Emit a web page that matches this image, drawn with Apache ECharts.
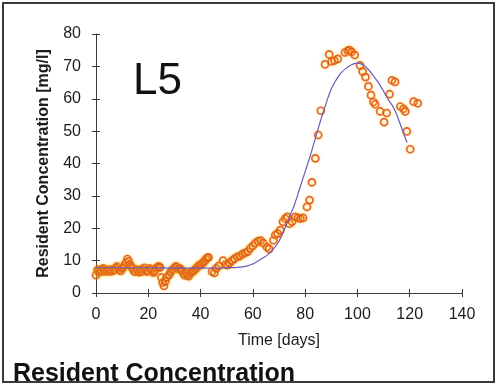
<!DOCTYPE html>
<html>
<head>
<meta charset="utf-8">
<script src="https://cdn.jsdelivr.net/npm/echarts@6/dist/echarts.min.js"></script>
<style>
  html, body { margin: 0; padding: 0; background: #fff; }
  #chart { width: 498px; height: 384px; }
</style>
</head>
<body>
<div id="chart"></div>
<script>
// Measured resident concentration at lysimeter L5
const obsDays = [0, 0.5, 1, 1.2, 1.5, 2, 2.5, 2.8, 3, 3.5, 4, 4.5, 5, 5.5, 6, 6.5, 7, 7.5, 8, 8.5, 9, 9.5, 10, 10.5, 11, 11.5, 12, 12.5, 13, 13.5, 14, 14.5, 15, 15.5, 16, 16.5, 17, 17.5, 18, 18.5, 19, 19.5, 20, 20.5, 21, 21.5, 22, 22.5, 23, 23.5, 24, 24.5, 25, 25.5, 26, 26.5, 27, 28, 28.5, 29, 29.5, 30, 30.5, 31, 31.5, 32, 32.5, 33, 33.5, 34, 34.5, 35, 35.5, 36, 36.5, 37, 37.5, 38, 38.5, 39, 39.5, 40, 40.5, 41, 41.5, 42, 42.5, 43, 44.4, 45.3, 46, 47, 48.6, 49.5, 50.3, 51, 52, 53, 54, 55, 56, 57, 58, 59, 60, 61, 62, 63, 64, 65.4, 66.2, 67.9, 68.6, 69.5, 70.5, 71.5, 72.4, 73.2, 74, 75, 76.2, 77.3, 78.2, 79.2, 80.7, 81.7, 82.6, 83.9, 85, 86, 87.6, 89.2, 90.1, 91.2, 92.5, 95.2, 96.3, 96.9, 97.8, 99, 101, 102, 103.1, 104.2, 105.2, 106.1, 106.8, 108.7, 110.2, 111.2, 112.3, 113.2, 114.4, 116.4, 117.6, 118.3, 118.9, 120.2, 121.5, 123.1];
const obsConc = [5.5, 7, 7.2, 6.4, 6.5, 7, 6.8, 7.6, 7.3, 6.6, 7, 6.8, 7.2, 6.6, 6.9, 7.4, 7, 7.6, 8.2, 7.8, 7.2, 6.8, 7.6, 8, 8.6, 9.4, 10.5, 9.8, 8.8, 8.2, 7.6, 6.8, 6.5, 7.2, 6.9, 6.4, 7.2, 6.6, 7.3, 7.8, 7, 6.6, 6.8, 7.6, 7.2, 6.8, 6.3, 6.8, 7.6, 8, 8.2, 7.9, 4.8, 3.2, 2.2, 3.6, 4.8, 5.6, 6.4, 7, 7.4, 7.8, 8.2, 8, 7.4, 7.6, 7.2, 6.8, 6, 5.4, 6.2, 5.6, 5.2, 6, 6.4, 6.6, 7, 7.4, 7.8, 8.2, 8.6, 8.8, 9, 9.4, 9.8, 10.4, 10.8, 11, 6.6, 6.2, 7.6, 8.4, 10, 8.8, 8.6, 9.2, 10, 10.6, 11.2, 11.4, 12, 12.4, 12.8, 13.8, 14.6, 15.4, 16, 16.2, 15.4, 14.2, 13.6, 16.3, 17.9, 18.4, 19.4, 22, 23, 23.5, 21.4, 22, 23.5, 23.2, 23, 23.2, 26.6, 28.7, 34.2, 41.6, 48.8, 56.3, 70.6, 73.7, 71.5, 71.8, 72.3, 74.3, 74.8, 75, 74.5, 73.5, 70.3, 68.4, 66.7, 63.8, 61.1, 59, 58.3, 56.1, 52.8, 55.6, 61.4, 65.7, 65.2, 57.6, 56.9, 56.1, 49.9, 44.4, 59.1, 58.6];

// Fitted model curve
const fitDays = [0, 10, 20, 30, 40, 50, 55, 58, 60, 62, 64, 66, 68, 70, 72, 74, 76, 78, 80, 82, 84, 86, 88, 90, 92, 94, 96, 98, 100, 102, 104, 106, 108, 110, 112, 114, 116, 118, 119];
const fitConc = [7.8, 7.8, 7.8, 7.7, 7.7, 7.8, 8, 8.4, 9, 9.9, 10.9, 12, 13.8, 16, 19.5, 23.5, 27.5, 32.5, 37.5, 42.5, 48, 53.5, 58.5, 63, 66, 68.2, 69.6, 70.6, 71, 70.5, 69.2, 67.2, 65, 62.3, 59.5, 57, 53, 48.5, 46.5];

const xTicks = { min: 0, max: 140, interval: 20 };
const yTicks = { min: 0, max: 80, interval: 10 };

const obsData = obsDays.map((d, i) => [d, obsConc[i]]);
const fitData = fitDays.map((d, i) => [d, fitConc[i]]);

const font = 'Liberation Sans, Arial, sans-serif';
const axisColor = '#3a3a3a';
const textColor = '#1c1c1c';

const chart = echarts.init(document.getElementById('chart'), null, { renderer: 'canvas' });

const baseX = {
  type: 'value', min: xTicks.min, max: xTicks.max, interval: xTicks.interval,
  splitLine: { show: false }
};
const baseY = {
  type: 'value', min: yTicks.min, max: yTicks.max, interval: yTicks.interval,
  splitLine: { show: false }
};

chart.setOption({
  backgroundColor: '#ffffff',
  animation: false,
  grid: { left: 96, right: 36, top: 34, bottom: 91, containLabel: false },
  xAxis: [
    Object.assign({}, baseX, {
      position: 'bottom',
      name: 'Time [days]', nameLocation: 'middle', nameGap: 40,
      nameTextStyle: { color: textColor, fontSize: 16, fontFamily: font },
      axisLine: { show: true, lineStyle: { color: axisColor, width: 1 } },
      axisTick: { show: true, inside: false, length: 4, lineStyle: { color: axisColor } },
      axisLabel: { color: textColor, fontSize: 16, fontFamily: font, margin: 14 }
    }),
    Object.assign({}, baseX, {
      position: 'bottom', offset: 0,
      axisLine: { show: false },
      axisTick: { show: true, inside: true, length: 4, lineStyle: { color: axisColor } },
      axisLabel: { show: false }
    })
  ],
  yAxis: [
    Object.assign({}, baseY, {
      position: 'left',
      name: 'Resident Concentration [mg/l]', nameLocation: 'middle', nameGap: 44,
      nameTextStyle: { color: textColor, fontSize: 16, fontFamily: font, fontWeight: 'bold' },
      axisLine: { show: true, lineStyle: { color: axisColor, width: 1 } },
      axisTick: { show: true, inside: false, length: 4, lineStyle: { color: axisColor } },
      axisLabel: { color: textColor, fontSize: 16, fontFamily: font, margin: 15 }
    }),
    Object.assign({}, baseY, {
      position: 'left', offset: 0,
      axisLine: { show: false },
      axisTick: { show: true, inside: true, length: 4, lineStyle: { color: axisColor } },
      axisLabel: { show: false }
    })
  ],
  series: [
    {
      type: 'scatter', xAxisIndex: 0, yAxisIndex: 0,
      data: obsData,
      symbol: 'circle', symbolSize: 7,
      itemStyle: {
        color: 'rgba(255,255,255,0)',
        borderColor: '#dc4418', borderWidth: 1.7,
        shadowColor: 'rgba(255,210,40,0.95)', shadowBlur: 2.5
      },
      z: 2
    },
    {
      type: 'line', xAxisIndex: 0, yAxisIndex: 0,
      data: fitData, smooth: true, showSymbol: false,
      lineStyle: { color: '#6a5cb8', width: 1.2 },
      z: 3
    }
  ],
  graphic: [
    {
      type: 'text', left: 133, top: 60,
      style: { text: 'L5', fill: '#111', font: '44px ' + font }
    },
    {
      type: 'text', left: 13, top: 362,
      style: { text: 'Resident Concentration', fill: '#111', font: 'bold 25px ' + font }
    },
    {
      type: 'rect', shape: { x: 3, y: 3, width: 491, height: 379 },
      style: { fill: 'none', stroke: '#3a3a3a', lineWidth: 2 },
      z: 100
    }
  ]
});
</script>
</body>
</html>
